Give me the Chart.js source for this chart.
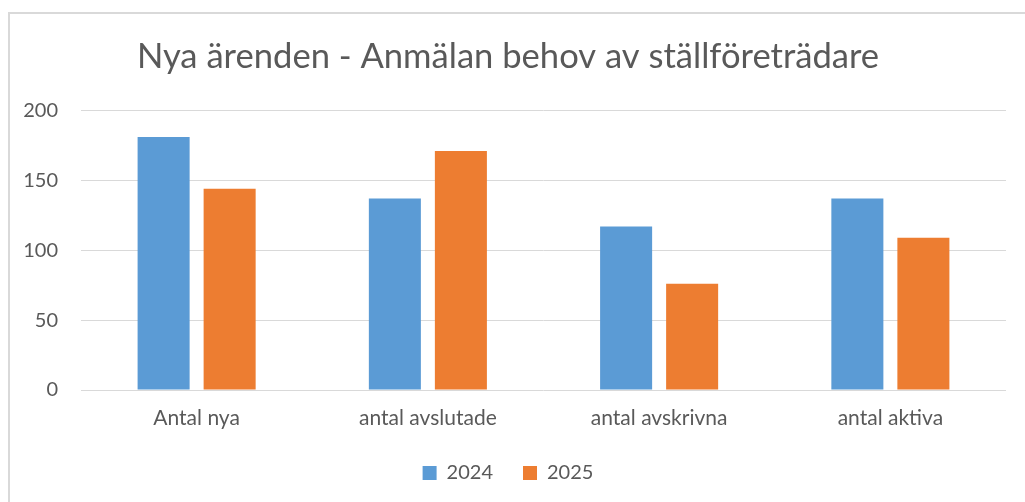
<!DOCTYPE html>
<html>
<head>
<meta charset="utf-8">
<script src="https://cdn.jsdelivr.net/npm/chart.js@4/dist/chart.umd.min.js"></script>
<style>
  html, body { margin: 0; padding: 0; background: #fff; }
  #frame {
    position: absolute; left: 8px; top: 12px;
    width: 1017px; height: 490px;
    border-left: 2px solid #d9d9d9; border-top: 2px solid #d9d9d9;
  }
  #chart { display: block; }
</style>
</head>
<body>
<div id="frame"><canvas id="chart" width="1015" height="488"></canvas></div>
<script>
// data
const categories = ["Antal nya", "antal avslutade", "antal avskrivna", "antal aktiva"];
const values2024 = [181, 137, 117, 137];
const values2025 = [144, 171, 76, 109];
const yTicks = [0, 50, 100, 150, 200];

const grey = "#595959";

let ctx = document.getElementById("chart").getContext("2d");

let myChart = new Chart(ctx, {
  type: "bar",
  data: {
    labels: categories,
    datasets: [
      {
        label: "2024",
        data: values2024,
        backgroundColor: "#5B9BD5",
        categoryPercentage: 0.571,
        barPercentage: 0.788,
      },
      {
        label: "2025",
        data: values2025,
        backgroundColor: "#ED7D31",
        categoryPercentage: 0.571,
        barPercentage: 0.788,
      },
    ],
  },
  options: {
    responsive: false,
    animation: false,
    layout: { padding: { top: 0, right: 19, bottom: 9, left: 0 } },
    plugins: {
      title: {
        display: true,
        text: "Nya ärenden - Anmälan behov av ställföreträdare",
        color: grey,
        font: { family: "Lato", size: 34.6, weight: "normal" },
        padding: { top: 22, bottom: 33 },
      },
      legend: {
        position: "bottom",
        labels: {
          color: grey,
          font: { family: "Lato", size: 20 },
          boxWidth: 14,
          boxHeight: 14,
          padding: 30,
        },
      },
      tooltip: { enabled: false },
    },
    scales: {
      x: {
        grid: { display: false },
        border: { display: false },
        ticks: { color: grey, font: { family: "Lato", size: 21 }, padding: 8 },
        afterFit: (scale) => { scale.height = 43; },
      },
      y: {
        min: 0,
        max: 200,
        afterBuildTicks: (scale) => { scale.ticks = yTicks.map((v) => ({ value: v })); },
        grid: { color: "#d9d9d9", lineWidth: 1, drawTicks: false },
        border: { display: false },
        ticks: { color: grey, font: { family: "Lato", size: 20 }, padding: 23 },
        afterFit: (scale) => { scale.width = 71; },
      },
    },
  },
});
</script>
</body>
</html>
